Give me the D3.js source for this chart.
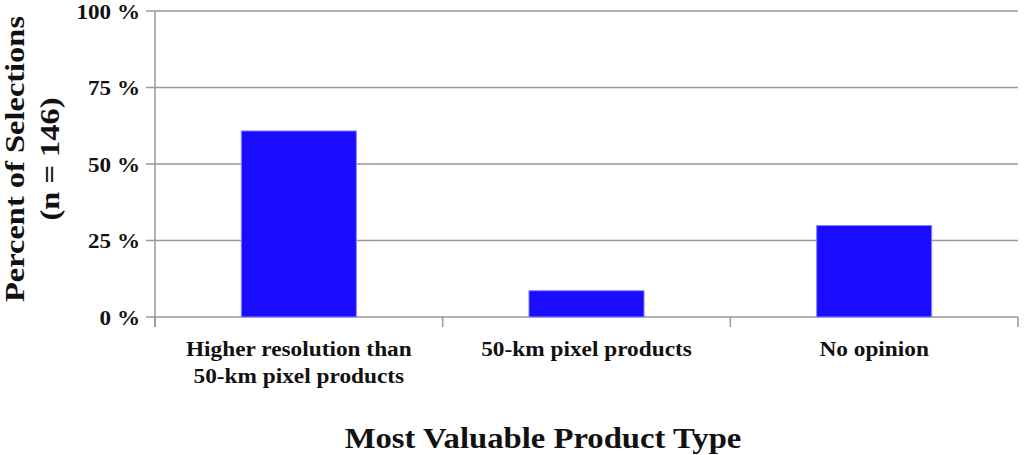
<!DOCTYPE html>
<html><head><meta charset="utf-8">
<script src="https://cdn.jsdelivr.net/npm/d3@7"></script>
<style>body{margin:0;background:#fff}svg{display:block}</style>
</head><body>
<svg id="c" width="1024" height="455"></svg>
<script>
const categories = [["Higher resolution than","50-km pixel products"],["50-km pixel products"],["No opinion"]];
const values = [60.8, 8.6, 29.9];
const yTicks = [0, 25, 50, 75, 100];

const svg = d3.select("#c");
const font = "'Liberation Serif','Times New Roman',serif";
const L = 155, R = 1018, T = 11, B = 317;
const x = d3.scaleBand().domain(d3.range(categories.length)).range([L, R]).paddingInner(0.6).paddingOuter(0.3);
const y = d3.scaleLinear().domain([0, 100]).range([B, T]);
const grid = "#999";

// gridlines
svg.append("g").selectAll("line").data(yTicks).join("line")
  .attr("x1", L - 9).attr("x2", R).attr("y1", d => y(d)).attr("y2", d => y(d))
  .attr("stroke", grid).attr("stroke-width", 1.5);
// y axis line
svg.append("line").attr("x1", L).attr("x2", L).attr("y1", T).attr("y2", B + 10).attr("stroke", grid).attr("stroke-width", 1.5);
// category boundary ticks
const step = x.step();
svg.append("g").selectAll("line").data(d3.range(categories.length + 1)).join("line")
  .attr("x1", d => L + d * step).attr("x2", d => L + d * step)
  .attr("y1", B).attr("y2", B + 10).attr("stroke", grid).attr("stroke-width", 1.5);

// bars
svg.append("g").selectAll("rect").data(values).join("rect")
  .attr("x", (d, i) => x(i)).attr("width", x.bandwidth())
  .attr("y", d => y(d)).attr("height", d => y(0) - y(d))
  .attr("fill", "#1a0dff").attr("stroke", "#8c86ff").attr("stroke-width", 1);

// y tick labels
svg.append("g").selectAll("text").data(yTicks).join("text")
  .attr("transform", d => `translate(140,${y(d) + 7.5}) scale(1.05,1)`)
  .attr("text-anchor", "end").attr("font-family", font).attr("font-weight", "bold").attr("font-size", 22)
  .attr("fill", "#111").text(d => d + " %");

// x labels
const xl = svg.append("g").selectAll("text").data(categories).join("text")
  .attr("text-anchor", "middle").attr("font-family", font).attr("font-weight", "bold").attr("font-size", 22).attr("fill", "#111")
  .attr("transform", (d, i) => `translate(${x(i) + x.bandwidth() / 2},356) scale(1.06,1)`);
xl.selectAll("tspan").data(d => d).join("tspan").attr("x", 0).attr("dy", (d, i) => i ? 27 : 0).text(d => d);

// y title
const yt = svg.append("text").attr("transform", "translate(24,159) rotate(-90) scale(1.16,1)")
  .attr("text-anchor", "middle").attr("font-family", font).attr("font-weight", "bold").attr("font-size", 28).attr("fill", "#111");
yt.append("tspan").attr("x", 0).attr("dy", 0).text("Percent of Selections");
yt.append("tspan").attr("x", 0).attr("dy", 35).text("(n = 146)");

// x title
svg.append("text").attr("transform", "translate(543,448) scale(1.09,1)").attr("text-anchor", "middle")
  .attr("font-family", font).attr("font-weight", "bold").attr("font-size", 30).attr("fill", "#111")
  .text("Most Valuable Product Type");
</script>
</body></html>
